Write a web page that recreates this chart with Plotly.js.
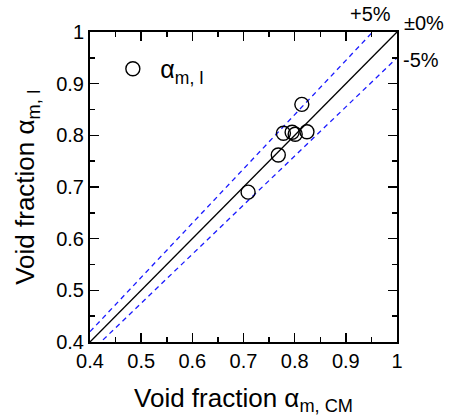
<!DOCTYPE html>
<html>
<head>
<meta charset="utf-8">
<script src="https://cdn.plot.ly/plotly-3.0.1.min.js"></script>
<style>html,body{margin:0;padding:0;background:#fff;}#plot{width:449px;height:416px;}</style>
</head>
<body>
<div id="plot"></div>
<script>
// Data
const xCM = [0.709, 0.768, 0.778, 0.795, 0.801, 0.814, 0.824];
const yI  = [0.690, 0.762, 0.804, 0.806, 0.802, 0.860, 0.807];
const seriesName = 'α<sub>m, I</sub>';

// Reference lines: y = factor * x
const refX = [0.4, 1.0];
const refFactors = [1.05, 1.0, 0.95];
const refLabels = ['+5%', '±0%', '-5%'];
const refDash = ['5px,4px', 'solid', '5px,4px'];
const refColor = ['#1a1aff', '#000000', '#1a1aff'];

const tickVals = [0.4, 0.5, 0.6, 0.7, 0.8, 0.9, 1.0];
const tickText = ['0.4', '0.5', '0.6', '0.7', '0.8', '0.9', '1'];

const font = 'Liberation Sans, Arial, sans-serif';

const traces = refFactors.map((f, i) => ({
  x: refX,
  y: refX.map(v => v * f),
  mode: 'lines',
  line: {color: refColor[i], width: 1.3, dash: refDash[i]},
  showlegend: false,
  hoverinfo: 'skip'
}));

traces.push({
  x: xCM, y: yI,
  mode: 'markers',
  name: seriesName,
  marker: {symbol: 'circle-open', size: 14, color: '#000', line: {width: 1.4, color: '#000'}},
  showlegend: true
});

const axisCommon = {
  range: [0.4, 1.0],
  tickvals: tickVals,
  ticktext: tickText,
  ticks: 'inside',
  ticklen: 9,
  tickwidth: 1.5,
  tickcolor: '#000',
  showline: true,
  linecolor: '#000',
  linewidth: 2,
  mirror: 'ticks',
  showgrid: false,
  zeroline: false,
  tickfont: {family: font, size: 20, color: '#000'},
  minor: {ticks: 'inside', dtick: 0.05, tick0: 0.4, ticklen: 5, tickwidth: 1.5, tickcolor: '#000', showgrid: false}
};

const layout = {
  width: 449, height: 416,
  margin: {l: 90, r: 52, t: 32, b: 74},
  paper_bgcolor: '#fff', plot_bgcolor: '#fff',
  font: {family: font, color: '#000'},
  xaxis: Object.assign({}, axisCommon, {
    title: {text: 'Void fraction α<sub>m, CM</sub>', font: {family: font, size: 26, color: '#000'}, standoff: 20}
  }),
  yaxis: Object.assign({}, axisCommon, {
    title: {text: 'Void fraction α<sub>m, I</sub>', font: {family: font, size: 26, color: '#000'}, standoff: 14}
  }),
  legend: {
    x: 0.05, y: 0.955, xanchor: 'left', yanchor: 'top',
    bgcolor: 'rgba(0,0,0,0)', borderwidth: 0,
    font: {family: font, size: 25, color: '#000'},
    itemwidth: 45
  },
  annotations: [
    {xref: 'paper', yref: 'paper', x: 0.915, y: 1.058, text: refLabels[0]},
    {xref: 'paper', yref: 'paper', x: 1.088, y: 1.028, text: refLabels[1]},
    {xref: 'paper', yref: 'paper', x: 1.078, y: 0.910, text: refLabels[2]}
  ].map(a => Object.assign(a, {showarrow: false, xanchor: 'center', yanchor: 'middle', font: {family: font, size: 20, color: '#000'}}))
};

Plotly.newPlot('plot', traces, layout, {staticPlot: true, displayModeBar: false});
</script>
</body>
</html>
